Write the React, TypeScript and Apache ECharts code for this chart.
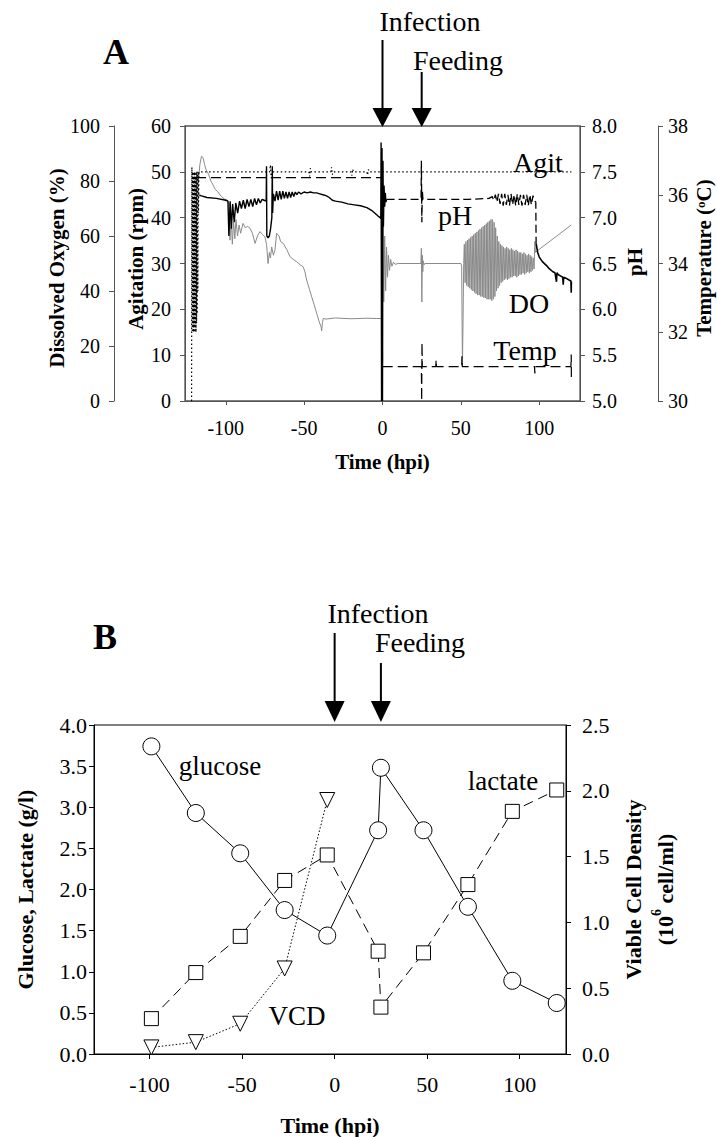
import React, { useEffect, useRef } from 'react';
import * as echarts from 'echarts';

// ---------- shared ----------
const xTicks = [-100, -50, 0, 50, 100];
const infectionTime = 0;
const feedingTime = 25;

// ---------- Panel A (online data, [hpi, value]) ----------
const agitation: number[][] = [
  [-121.8, 0], [-121.6, 51], [-121.4, 15], [-121.2, 50], [-121.0, 16], [-120.8, 50], [-120.6, 15], [-120.4, 49],
  [-120.2, 16], [-120.0, 50], [-119.8, 15], [-119.6, 50], [-119.4, 16], [-119.2, 49], [-119.0, 15], [-118.8, 50],
  [-118.6, 17], [-118.4, 50], [-118.2, 19], [-118.0, 50], [-117.8, 24], [-117.6, 50], [-117.4, 41], [-117.1, 50],
  [-110, 50], [-72, 50], [-71.5, 51.5], [-71, 48.6], [-70.5, 50], [-60, 50], [-47, 50], [-46.5, 49], [-46, 50.8],
  [-45.5, 50], [-33, 50], [-32.5, 51], [-32, 49.4], [-31.5, 50], [-20, 50], [-19.5, 49.2], [-19, 50.6], [-18.5, 50],
  [-10, 50], [-9.5, 49.3], [-9, 50.5], [-8.5, 50], [0, 50], [60, 50], [120.5, 50]
];

const dissolvedOxygen: number[][] = [
  [-117.5, 80], [-116.5, 86], [-115.5, 89], [-114.5, 88.5], [-113.5, 86], [-112.5, 84], [-111, 82.5], [-109.5, 80],
  [-108, 78.5], [-106.8, 77], [-105, 76], [-103, 74.5], [-101, 73.5], [-99, 73], [-98, 72], [-97.3, 58.5],
  [-96.6, 67.6], [-95.8, 57], [-95, 65], [-94.2, 59], [-93.5, 66], [-92.5, 60], [-91.5, 64], [-90.5, 61],
  [-89, 64.6], [-87.5, 63], [-86, 63.5], [-84.5, 62.8], [-83, 61], [-81.3, 57.3], [-79.8, 60], [-78.2, 61.6],
  [-76.5, 60.5], [-75, 59.7], [-74, 57], [-73, 50], [-72.2, 54], [-71.5, 52], [-70.7, 56], [-69.6, 53],
  [-68.6, 55], [-67.5, 61], [-66, 60], [-65, 58], [-63.3, 57.3], [-61, 55], [-59, 52.5], [-57, 51.5],
  [-54.8, 50.7], [-52.5, 49.5], [-50.6, 48.8], [-49.5, 47], [-48.4, 44], [-46.8, 41], [-45.2, 37.9], [-43.6, 35],
  [-42, 31.9], [-40.5, 29], [-39.2, 27], [-38.8, 25.5], [-38.3, 28.5], [-37.8, 30], [-36, 29.8], [-30, 30.2],
  [-20, 29.9], [-10, 30.1], [-4, 30], [-0.5, 30], [0.2, 66], [0.8, 36], [1.4, 60], [2.0, 40], [2.6, 56],
  [3.2, 45], [3.8, 53], [4.5, 47.5], [5.2, 51.5], [6, 49], [7, 50.5], [8, 49.7], [10, 50], [24.5, 50],
  [24.8, 55.5], [25.1, 36], [25.4, 53], [25.7, 47], [26, 51], [26.5, 49.5], [27, 50], [50, 50], [50.5, 49],
  [51.0, 12.5], [51.4, 30], [51.8, 50], [52.2, 57], [52.7, 43], [53.2, 58], [53.7, 42], [54.2, 58.5], [54.7, 41.5],
  [55.2, 59], [55.7, 41], [56.2, 59.5], [56.7, 40.5], [57.2, 60], [57.7, 40], [58.2, 60.5], [58.7, 39.5],
  [59.2, 61], [59.7, 39], [60.2, 61.5], [60.7, 38.5], [61.2, 62], [61.7, 38.5], [62.2, 62.5], [62.7, 38],
  [63.2, 63], [63.7, 38], [64.2, 63.5], [64.7, 37.5], [65.2, 64], [65.7, 37.5], [66.2, 64.5], [66.7, 37],
  [67.2, 65], [67.7, 37], [68.2, 65.5], [68.7, 37], [69.2, 66], [69.7, 36.5], [70.2, 66], [70.7, 37],
  [71.2, 65], [71.7, 38], [72.2, 63], [72.7, 40], [73.2, 60], [73.7, 41], [74.2, 58], [74.7, 42],
  [75.2, 57], [75.7, 43], [76.2, 56.5], [76.7, 43.5], [77.2, 56], [77.7, 44], [78.2, 55.5], [78.7, 44.5],
  [79.2, 56], [79.7, 44], [80.2, 55.5], [80.7, 44.5], [81.2, 55], [81.7, 45], [82.2, 55.5], [82.7, 45],
  [83.2, 55], [83.7, 45.5], [84.2, 54.5], [84.7, 45.5], [85.2, 55], [85.7, 45], [86.2, 54.5], [86.7, 45.5],
  [87.2, 54], [87.7, 46], [88.2, 54], [88.7, 46], [89.2, 53.5], [89.7, 46.5], [90.2, 54], [90.7, 46],
  [91.2, 53.5], [91.7, 46.5], [92.2, 53], [92.7, 47], [93.2, 53.5], [93.7, 46.5], [94.2, 53], [94.7, 47],
  [95.2, 52.5], [95.7, 47.5], [96.2, 52], [96.7, 48], [97.2, 58], [97.6, 54], [98, 54.3], [120.4, 64]
];

const pHBefore: number[][] = [
  [-117, 7.25], [-116, 7.24], [-112, 7.22], [-106, 7.21], [-100, 7.19], [-98.6, 7.18], [-98.0, 6.8], [-97.2, 7.18],
  [-96.4, 6.88], [-95.6, 7.15], [-94.6, 6.95], [-93.6, 7.16], [-92.4, 7.05], [-91.2, 7.18], [-90, 7.1], [-88.8, 7.19],
  [-87.6, 7.1], [-86.4, 7.2], [-85.2, 7.12], [-84, 7.2], [-82.8, 7.12], [-81.6, 7.21], [-80.4, 7.14], [-79.2, 7.21],
  [-78, 7.16], [-76.8, 7.2], [-75.5, 7.19], [-74.2, 7.18], [-74.0, 7.56], [-73.8, 6.8], [-73, 6.78], [-72.2, 6.8],
  [-71.4, 6.88], [-70.6, 7.0], [-70.3, 7.56], [-70.1, 7.05], [-69.6, 7.26], [-68.6, 7.18], [-67.6, 7.29], [-66.6, 7.19],
  [-65.6, 7.29], [-64.6, 7.2], [-63.6, 7.29], [-62.6, 7.21], [-61.6, 7.28], [-60.6, 7.21], [-59.6, 7.28], [-58.6, 7.22],
  [-57.6, 7.28], [-56.6, 7.23], [-55.6, 7.28], [-54.6, 7.25], [-53.6, 7.28], [-52, 7.26], [-50, 7.28], [-48, 7.27],
  [-46, 7.28], [-44, 7.27], [-42, 7.27], [-40, 7.26], [-38, 7.25], [-36, 7.24], [-34, 7.22], [-32, 7.19],
  [-30, 7.18], [-26, 7.17], [-22, 7.15], [-18, 7.14], [-14, 7.13], [-10, 7.11], [-7, 7.08], [-5, 7.05],
  [-3, 7.02], [-1.5, 7.0], [-1.1, 6.99], [-0.9, 7.82], [-0.6, 5.0], [-0.3, 7.76], [0, 5.0], [0.3, 7.62],
  [0.6, 6.9], [1.0, 7.35], [1.4, 7.12], [1.8, 7.27], [2.2, 7.17], [2.6, 7.2]
];

const pHAfter: number[][] = [
  [2.6, 7.2], [10, 7.2], [24.6, 7.2], [24.8, 7.62], [25.1, 6.95], [25.4, 7.3], [25.8, 7.2], [40, 7.2], [55, 7.2],
  [68, 7.21], [70, 7.23], [71, 7.19], [72, 7.25], [73, 7.17], [74, 7.26], [75, 7.15], [76, 7.26], [77, 7.13],
  [78, 7.26], [79, 7.14], [80, 7.25], [81, 7.13], [82, 7.26], [83, 7.14], [84, 7.25], [85, 7.13], [86, 7.26],
  [87, 7.14], [88, 7.25], [89, 7.13], [90, 7.25], [91, 7.14], [92, 7.25], [93, 7.13], [94, 7.25], [95, 7.14],
  [96, 7.24], [97, 7.18], [97.8, 7.17], [98, 6.72]
];

const pHEnd: number[][] = [
  [98, 6.72], [99, 6.62], [100, 6.57], [102, 6.52], [104.5, 6.48], [106, 6.45], [108.7, 6.41], [110, 6.4],
  [111, 6.3], [111.3, 6.4], [112, 6.38], [114, 6.36], [115, 6.35], [115.3, 6.27], [115.6, 6.35], [117, 6.34],
  [119, 6.32], [120.2, 6.31], [120.4, 6.18], [120.5, 6.3]
];

const temperature: number[][] = [
  [-119, 36.5], [-0.5, 36.5], [0, 31.0], [24.8, 31.0], [25, 30.0], [25.2, 31.7], [25.4, 31.0], [34, 31.0],
  [34.2, 31.2], [34.4, 31.0], [50.5, 31.0], [50.7, 31.3], [50.9, 31.0], [97, 31.0], [97.2, 30.8], [97.4, 31.0],
  [120.2, 31.0], [120.4, 31.35], [120.5, 30.7]
];

// ---------- Panel B (offline samples) ----------
const sampleTime = [-99, -75, -51, -27, -4, 23.5, 25, 48, 72, 96, 120];
const glucose = [3.74, 2.93, 2.44, 1.75, 1.44, 2.72, 3.48, 2.72, 1.79, 0.89, 0.62];
const lactate = [0.43, 0.99, 1.43, 2.11, 2.42, 1.25, 0.57, 1.23, 2.06, 2.95, 3.21];
const vcdTime = [-99, -75, -51, -27, -4];
const vcd = [0.05, 0.09, 0.23, 0.65, 1.93];

const SERIF = '"Liberation Serif", "Times New Roman", serif';

const zip = (xs: number[], ys: number[]) => xs.map((x, i) => [x, ys[i]]);

function yAxisBase(color: string, fontSize: number, labelMargin: number) {
  return {
    type: 'value',
    axisLine: { show: true, onZero: false, lineStyle: { color, width: 1 } },
    axisTick: { show: true, inside: false, length: 5, lineStyle: { color } },
    axisLabel: { color: '#000', fontSize, fontFamily: SERIF, margin: labelMargin },
    splitLine: { show: false },
    nameLocation: 'middle',
    nameRotate: 90,
    nameMoveOverlap: false,
  };
}

export default function App() {
  const ref = useRef<HTMLDivElement>(null);

  useEffect(() => {
    if (!ref.current) return;
    const chart = echarts.init(ref.current, null, { renderer: 'svg' });
    const titleA = { fontSize: 21, fontWeight: 'bold', fontFamily: SERIF, color: '#000' };
    const titleB = { fontSize: 22, fontWeight: 'bold', fontFamily: SERIF, color: '#000' };
    const axA = '#555';

    const option: any = {
      animation: false,
      backgroundColor: '#fff',
      textStyle: { fontFamily: SERIF },
      grid: [
        { left: 185, top: 126, width: 395, height: 275, show: true, borderColor: axA, borderWidth: 1.3, backgroundColor: 'transparent' },
        { left: 94, top: 725, width: 472, height: 329, show: true, borderColor: '#000', borderWidth: 1, backgroundColor: 'transparent' },
      ],
      xAxis: [
        {
          type: 'value', gridIndex: 0, min: -126, max: 126,
          axisLine: { show: true, onZero: false, lineStyle: { color: axA } },
          axisTick: { show: true, length: 4, customValues: xTicks, lineStyle: { color: axA } },
          axisLabel: { customValues: xTicks, fontSize: 20, fontFamily: SERIF, color: '#000', margin: 17 },
          splitLine: { show: false },
          name: 'Time (hpi)', nameLocation: 'middle', nameGap: 50, nameTextStyle: titleA, nameMoveOverlap: false,
        },
        {
          type: 'value', gridIndex: 1, min: -130, max: 125,
          axisLine: { show: true, onZero: false, lineStyle: { color: '#000' } },
          axisTick: { show: true, length: 5, customValues: xTicks, lineStyle: { color: '#000' } },
          axisLabel: { customValues: xTicks, fontSize: 22, fontFamily: SERIF, color: '#000', margin: 19 },
          splitLine: { show: false },
          name: 'Time (hpi)', nameLocation: 'middle', nameGap: 60, nameTextStyle: titleB, nameMoveOverlap: false,
        },
      ],
      yAxis: [
        { ...yAxisBase(axA, 20, 14), gridIndex: 0, position: 'left', offset: 71, min: 0, max: 100, interval: 20 },
        { ...yAxisBase(axA, 20, 14), gridIndex: 0, position: 'left', offset: 0, min: 0, max: 60, interval: 10 },
        {
          ...yAxisBase(axA, 20, 12), gridIndex: 0, position: 'right', offset: 0, min: 5, max: 8, interval: 0.5,
          axisLabel: { color: '#000', fontSize: 20, fontFamily: SERIF, margin: 12, formatter: (v: number) => v.toFixed(1) },
        },
        { ...yAxisBase(axA, 20, 10), gridIndex: 0, position: 'right', offset: 78, min: 30, max: 38, interval: 2 },
        {
          ...yAxisBase('#000', 22, 7), gridIndex: 1, position: 'left', min: 0, max: 4, interval: 0.5,
          axisLabel: { color: '#000', fontSize: 22, fontFamily: SERIF, margin: 7, formatter: (v: number) => v.toFixed(1) },
          name: 'Glucose, Lactate (g/l)', nameGap: 58, nameTextStyle: titleB,
        },
        {
          ...yAxisBase('#000', 22, 16), gridIndex: 1, position: 'right', min: 0, max: 2.5, interval: 0.5,
          axisLabel: { color: '#000', fontSize: 22, fontFamily: SERIF, margin: 16, formatter: (v: number) => v.toFixed(1) },
          name: 'Viable Cell Density\n(10{sup|6} cell/ml)', nameGap: 51,
          nameTextStyle: { ...titleB, lineHeight: 32, rich: { sup: { fontSize: 14, fontWeight: 'bold', fontFamily: SERIF, verticalAlign: 'top', color: '#000', lineHeight: 32 } } },
        },
      ],
      series: [
        { name: 'DO', type: 'line', xAxisIndex: 0, yAxisIndex: 0, data: dissolvedOxygen, showSymbol: false, symbol: 'none',
          lineStyle: { color: '#8a8a8a', width: 1 } },
        { name: 'Agit', type: 'line', xAxisIndex: 0, yAxisIndex: 1, data: agitation, showSymbol: false, symbol: 'none',
          lineStyle: { color: '#000', width: 1.2, type: [1.5, 2.5] } },
        { name: 'Temp', type: 'line', xAxisIndex: 0, yAxisIndex: 3, data: temperature, showSymbol: false, symbol: 'none',
          lineStyle: { color: '#000', width: 1.2, type: [10, 5] } },
        { name: 'pH', type: 'line', xAxisIndex: 0, yAxisIndex: 2, data: pHBefore, showSymbol: false, symbol: 'none',
          lineStyle: { color: '#000', width: 1.4 } },
        { name: 'pH2', type: 'line', xAxisIndex: 0, yAxisIndex: 2, data: pHAfter, showSymbol: false, symbol: 'none',
          lineStyle: { color: '#000', width: 1.3, type: [8, 4] } },
        { name: 'pH3', type: 'line', xAxisIndex: 0, yAxisIndex: 2, data: pHEnd, showSymbol: false, symbol: 'none',
          lineStyle: { color: '#000', width: 1.6 } },
        { name: 'VCD', type: 'line', xAxisIndex: 1, yAxisIndex: 5, data: zip(vcdTime, vcd), symbol: 'triangle', symbolRotate: 180, symbolSize: 15,
          lineStyle: { color: '#000', width: 1, type: [1.5, 2] }, itemStyle: { color: '#fff', borderColor: '#000', borderWidth: 1 } },
        { name: 'lactate', type: 'line', xAxisIndex: 1, yAxisIndex: 4, data: zip(sampleTime, lactate), symbol: 'rect', symbolSize: 14,
          lineStyle: { color: '#000', width: 1, type: [10, 6] }, itemStyle: { color: '#fff', borderColor: '#000', borderWidth: 1 } },
        { name: 'glucose', type: 'line', xAxisIndex: 1, yAxisIndex: 4, data: zip(sampleTime, glucose), symbol: 'circle', symbolSize: 17,
          lineStyle: { color: '#000', width: 1 }, itemStyle: { color: '#fff', borderColor: '#000', borderWidth: 1 } },
      ],
    };
    chart.setOption(option);

    const px = (axis: number, v: number) => chart.convertToPixel({ xAxisIndex: axis }, v) as unknown as number;
    const arrow = (x: number, y0: number, yHead: number, yTip: number) => [
      { type: 'line', shape: { x1: x, y1: y0, x2: x, y2: yHead + 1 }, style: { stroke: '#000', lineWidth: 2 } },
      { type: 'polygon', shape: { points: [[x - 10, yHead], [x + 10, yHead], [x, yTip]] }, style: { fill: '#000' } },
    ];
    const txt = (text: string, x: number, y: number, size: number, bold = false) => ({
      type: 'text', x, y,
      style: { text, fontSize: size, fontFamily: SERIF, fontWeight: bold ? 'bold' : 'normal', fill: '#000', align: 'center', verticalAlign: 'middle' },
    });
    const vtxt = (text: string, x: number, y: number, size: number, rich?: any) => ({
      type: 'text', x, y, rotation: Math.PI / 2,
      style: { text, fontSize: size, fontFamily: SERIF, fontWeight: 'bold', fill: '#000', align: 'center', verticalAlign: 'middle', rich },
    });

    const aInf = px(0, infectionTime), aFeed = px(0, feedingTime);
    const bInf = px(1, infectionTime), bFeed = px(1, feedingTime);

    chart.setOption({
      graphic: [
        txt('A', 116, 52, 36, true),
        txt('Infection', 430, 21, 28),
        txt('Feeding', 458, 60, 28),
        ...arrow(aInf, 40, 108, 127),
        ...arrow(aFeed, 72, 108, 127),
        txt('Agit', 538, 162, 28),
        txt('pH', 455, 215, 28),
        txt('DO', 529, 303, 28),
        txt('Temp', 525, 350, 28),
        vtxt('Dissolved Oxygen (%)', 57, 268, 21),
        vtxt('Agitation (rpm)', 136, 259, 21),
        vtxt('pH', 635, 262, 21),
        vtxt('Temperature ({sup|o}C)', 704, 258, 21, { sup: { fontSize: 13, fontWeight: 'bold', fontFamily: SERIF, verticalAlign: 'top', fill: '#000' } }),
        txt('B', 105, 637, 36, true),
        txt('Infection', 378, 613, 28),
        txt('Feeding', 420, 642, 28),
        ...arrow(bInf, 633, 701, 722),
        ...arrow(bFeed, 663, 701, 722),
        txt('glucose', 220, 766, 27),
        txt('lactate', 503, 781, 27),
        txt('VCD', 297, 1016, 27),
      ],
    });

    return () => chart.dispose();
  }, []);

  return <div ref={ref} style={{ position: 'absolute', left: 0, top: 0, width: 717, height: 1137, background: '#fff' }} />;
}
